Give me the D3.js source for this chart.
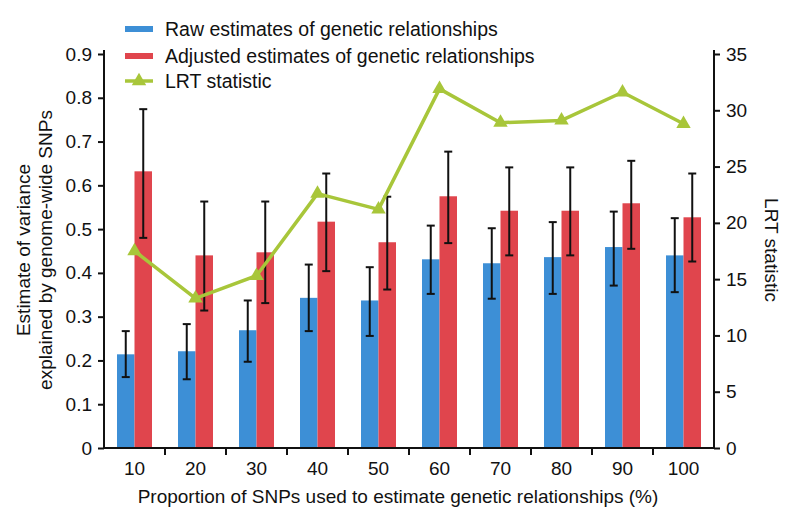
<!DOCTYPE html>
<html><head><meta charset="utf-8">
<script src="https://cdn.jsdelivr.net/npm/d3@7"></script>
<style>body{margin:0;background:#fff}svg{display:block}text{font-family:"Liberation Sans",Arial,sans-serif;fill:#111}</style>
</head><body><svg id="c" width="800" height="521"></svg>
<script>
const categories = ["10","20","30","40","50","60","70","80","90","100"];
const rawValues = [0.214,0.221,0.269,0.343,0.337,0.431,0.422,0.436,0.459,0.440];
const rawUpper  = [0.267,0.283,0.337,0.419,0.413,0.508,0.502,0.516,0.540,0.525];
const rawLower  = [0.162,0.157,0.197,0.267,0.256,0.352,0.341,0.352,0.371,0.356];
const adjValues = [0.632,0.440,0.447,0.517,0.470,0.575,0.542,0.542,0.559,0.527];
const adjUpper  = [0.774,0.563,0.563,0.627,0.574,0.677,0.641,0.641,0.656,0.627];
const adjLower  = [0.480,0.314,0.331,0.404,0.362,0.468,0.440,0.440,0.455,0.426];
const lrtValues = [17.5,13.3,15.3,22.6,21.2,31.9,28.9,29.1,31.6,28.8];
const leftTicks = [0,0.1,0.2,0.3,0.4,0.5,0.6,0.7,0.8,0.9];
const rightTicks = [0,5,10,15,20,25,30,35];
const legendLabels = ["Raw estimates of genetic relationships","Adjusted estimates of genetic relationships","LRT statistic"];

const BLUE="#3d8fd6", RED="#e0454d", GREEN="#a8c63a";
const svg = d3.select("#c");
const L=104, R=714, T=54, B=448;
const x = d3.scaleBand().domain(categories).range([L,R]).padding(0);
const y = d3.scaleLinear().domain([0,0.9]).range([B,T]);
const y2 = d3.scaleLinear().domain([0,35]).range([B,T]);
const bw = 17.5;

// bars
const g = svg.append("g");
g.selectAll(".raw").data(categories).join("rect")
  .attr("x",d=>x(d)+x.bandwidth()/2-bw).attr("width",bw)
  .attr("y",(d,i)=>y(rawValues[i])).attr("height",(d,i)=>B-y(rawValues[i])).attr("fill",BLUE);
g.selectAll(".adj").data(categories).join("rect")
  .attr("x",d=>x(d)+x.bandwidth()/2).attr("width",bw)
  .attr("y",(d,i)=>y(adjValues[i])).attr("height",(d,i)=>B-y(adjValues[i])).attr("fill",RED);

function errBars(off, up, lo){
  categories.forEach((d,i)=>{
    const cx = x(d)+x.bandwidth()/2+off;
    const e = svg.append("g").attr("stroke","#111").attr("stroke-width",2);
    e.append("line").attr("x1",cx).attr("x2",cx).attr("y1",y(up[i])).attr("y2",y(lo[i]));
    e.append("line").attr("x1",cx-4).attr("x2",cx+4).attr("y1",y(up[i])).attr("y2",y(up[i]));
    e.append("line").attr("x1",cx-4).attr("x2",cx+4).attr("y1",y(lo[i])).attr("y2",y(lo[i]));
  });
}
errBars(-bw/2, rawUpper, rawLower);
errBars(bw/2, adjUpper, adjLower);

// LRT line
const line = d3.line().x((d,i)=>x(categories[i])+x.bandwidth()/2).y(d=>y2(d));
svg.append("path").datum(lrtValues).attr("d",line).attr("fill","none").attr("stroke",GREEN).attr("stroke-width",3.5).attr("stroke-linejoin","round");
const tri = d3.symbol().type(d3.symbolTriangle).size(90);
svg.selectAll(".tri").data(lrtValues).join("path")
  .attr("transform",(d,i)=>`translate(${x(categories[i])+x.bandwidth()/2},${y2(d)})`)
  .attr("d",tri).attr("fill",GREEN);

// axes
const fs = "19px";
const ax = svg.append("g").attr("transform",`translate(${L},0)`)
  .call(d3.axisLeft(y).tickValues(leftTicks).tickFormat(d=>d===0?"0":d3.format(".1f")(d)).tickSize(6).tickPadding(6));
const ax2 = svg.append("g").attr("transform",`translate(${R},0)`)
  .call(d3.axisRight(y2).tickValues(rightTicks).tickSize(6).tickPadding(6));
const axb = svg.append("g").attr("transform",`translate(0,${B})`)
  .call(d3.axisBottom(x).tickSize(0).tickPadding(14));
axb.select(".domain").attr("d",`M${L},0H${R}`);
axb.selectAll(".btick").data(d3.range(1,categories.length)).join("line")
  .attr("x1",i=>x(categories[i])).attr("x2",i=>x(categories[i])).attr("y1",0).attr("y2",7).attr("stroke","#111").attr("stroke-width",2);
[ax,ax2,axb].forEach(a=>{
  a.selectAll("text").style("font-size",fs).attr("fill","#111");
  a.selectAll("line").attr("stroke","#111").attr("stroke-width",2);
  a.select(".domain").attr("stroke","#111").attr("stroke-width",2);
});
ax.select(".domain").attr("d",`M0,${T-4}V${B}`);
ax2.select(".domain").attr("d",`M0,${T-4}V${B}`);

// axis titles
svg.append("text").attr("transform","translate(30,250) rotate(-90)").attr("text-anchor","middle").style("font-size","19px").text("Estimate of variance");
svg.append("text").attr("transform","translate(52,250) rotate(-90)").attr("text-anchor","middle").style("font-size","19px").text("explained by genome-wide SNPs");
svg.append("text").attr("transform","translate(771,250) rotate(90)").attr("text-anchor","middle").attr("dominant-baseline","central").style("font-size","19px").text("LRT statistic");
svg.append("text").attr("x",398).attr("y",503).attr("text-anchor","middle").style("font-size","19px").text("Proportion of SNPs used to estimate genetic relationships (%)");

// legend
const lg = svg.append("g");
const rows=[29,56,81];
lg.append("rect").attr("x",125).attr("y",rows[0]-3).attr("width",28).attr("height",6).attr("fill",BLUE);
lg.append("rect").attr("x",125).attr("y",rows[1]-3).attr("width",28).attr("height",6).attr("fill",RED);
lg.append("line").attr("x1",125).attr("x2",153).attr("y1",rows[2]).attr("y2",rows[2]).attr("stroke",GREEN).attr("stroke-width",3.5);
lg.append("path").attr("transform",`translate(139,${rows[2]})`).attr("d",tri).attr("fill",GREEN);
lg.selectAll(".lt").data(legendLabels).join("text").attr("x",165).attr("y",(d,i)=>rows[i]).attr("dominant-baseline","central").style("font-size","19.5px").text(d=>d);
</script></body></html>
